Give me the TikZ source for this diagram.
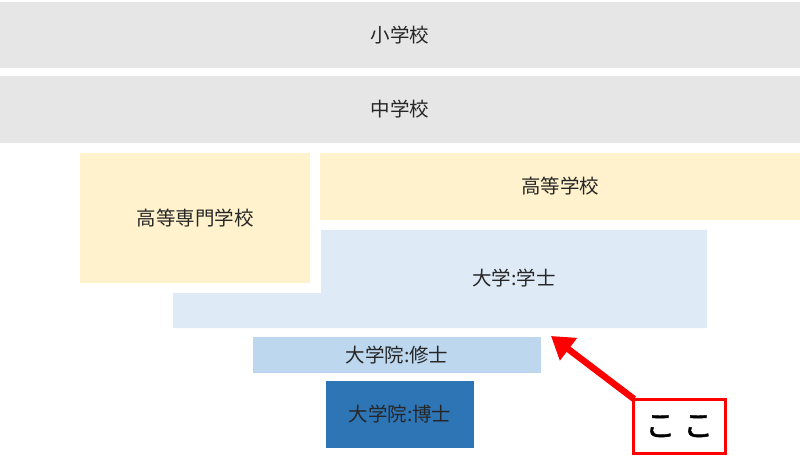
\documentclass[tikz,border=0pt]{standalone}
\usepackage{fontspec}
\setmainfont{Noto Sans CJK JP}
\usetikzlibrary{arrows.meta}
\definecolor{lgray}{HTML}{E7E6E6}
\definecolor{lyellow}{HTML}{FFF2CC}
\definecolor{lblue}{HTML}{DEEBF7}
\definecolor{mblue}{HTML}{BDD7EE}
\definecolor{dblue}{HTML}{2E75B6}
\definecolor{txt}{HTML}{262626}
\begin{document}
\begin{tikzpicture}[x=1pt,y=-1pt,
  blk/.style={draw=none,inner sep=0pt,outer sep=0pt,anchor=north west,font=\fontsize{19.5}{22}\selectfont,text=txt},
  lab/.style={font=\fontsize{19.5}{22}\selectfont,text=txt,inner sep=0pt}]
\useasboundingbox (0,0) rectangle (800,466);
\fill[white] (0,0) rectangle (800,466);
\node[blk,fill=lgray,minimum width=800pt,minimum height=66pt] (sho) at (0,2) {小学校};
\node[blk,fill=lgray,minimum width=800pt,minimum height=67pt] (chu) at (0,76) {中学校};
\node[blk,fill=lyellow,minimum width=230pt,minimum height=130pt] (kosen) at (80,153) {高等専門学校};
\node[blk,fill=lyellow,minimum width=480pt,minimum height=67pt] (koko) at (320,153) {高等学校};
\fill[lblue] (321,230) -- (707,230) -- (707,328) -- (173,328) -- (173,293) -- (321,293) -- cycle;
\node[lab] (gakushi) at (514,278) {大学:学士};
\node[blk,fill=mblue,minimum width=288pt,minimum height=36pt] (shushi) at (253,337) {大学院:修士};
\node[blk,fill=dblue,minimum width=148pt,minimum height=67pt] (hakase) at (326,381) {大学院:博士};
\node[draw=red,line width=2.5pt,fill=white,minimum width=92pt,minimum height=54pt,inner sep=0pt,anchor=north west,font=\fontsize{30}{32}\selectfont\addfontfeatures{FakeBold=1.5}] (here) at (632,398) {こ\hspace{8pt}こ};
\coordinate (tip) at (551,336);
\draw[red,line width=6.5pt,-{Triangle[length=22pt,width=27pt]}] ([xshift=2pt,yshift=-1pt]here.north west) -- (tip);
\end{tikzpicture}
\end{document}
